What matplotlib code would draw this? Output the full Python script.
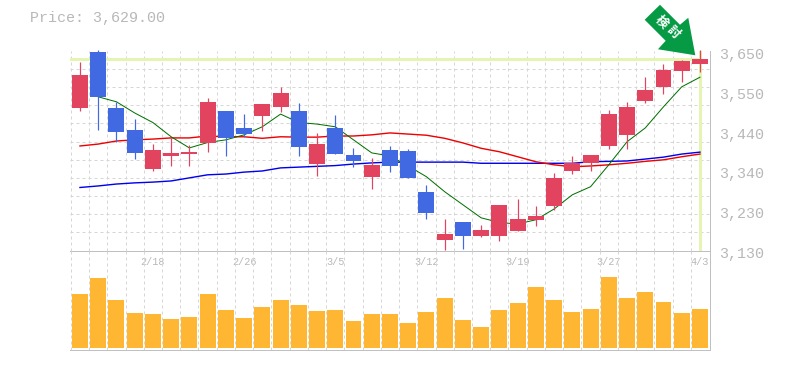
import matplotlib
matplotlib.use('Agg')
import matplotlib.pyplot as plt
import numpy as np
from matplotlib.patches import Polygon
from matplotlib.transforms import ScaledTranslation

# Daily candles, oldest first
opens = [3502, 3647, 3501, 3444, 3342, 3376, 3381, 3410, 3493, 3449, 3480, 3504,
         3493, 3355, 3449, 3379, 3322, 3392, 3389, 3283, 3158, 3205, 3168, 3168,
         3181, 3210, 3246, 3337, 3358, 3402, 3431, 3519, 3556, 3597, 3616]
highs = [3621, 3652, 3517, 3472, 3407, 3423, 3405, 3527, 3493, 3485, 3511, 3556,
         3513, 3436, 3483, 3397, 3371, 3402, 3394, 3301, 3212, 3205, 3197, 3249,
         3264, 3246, 3332, 3376, 3379, 3496, 3517, 3582, 3615, 3626, 3652]
lows = [3493, 3444, 3413, 3369, 3337, 3350, 3350, 3387, 3376, 3426, 3441, 3491,
        3377, 3324, 3381, 3348, 3290, 3335, 3319, 3212, 3132, 3134, 3166, 3155,
        3181, 3194, 3236, 3329, 3337, 3394, 3394, 3514, 3537, 3569, 3595]
closes = [3587, 3530, 3439, 3384, 3392, 3384, 3387, 3517, 3423, 3433, 3511, 3540,
          3400, 3407, 3381, 3363, 3353, 3350, 3319, 3228, 3173, 3168, 3184, 3249,
          3212, 3220, 3319, 3358, 3379, 3485, 3504, 3548, 3600, 3623, 3629]

# Moving averages
ma_short = [np.nan, 3530, 3517, 3488, 3463, 3426, 3397, 3411, 3418, 3431, 3452, 3485,
            3463, 3459, 3452, 3418, 3384, 3376, 3350, 3322, 3283, 3249, 3215, 3203,
            3199, 3210, 3238, 3275, 3296, 3353, 3413, 3449, 3504, 3556, 3581]
ma_mid = [3402, 3407, 3415, 3418, 3420, 3423, 3423, 3428, 3426, 3426, 3422, 3426,
          3425, 3425, 3428, 3428, 3431, 3436, 3433, 3430, 3422, 3410, 3396, 3387,
          3374, 3361, 3353, 3348, 3350, 3353, 3357, 3362, 3366, 3374, 3381]
ma_long = [3294, 3298, 3303, 3306, 3308, 3311, 3319, 3327, 3329, 3334, 3337, 3345,
           3347, 3349, 3351, 3355, 3358, 3360, 3360, 3360, 3360, 3360, 3357, 3357,
           3357, 3357, 3357, 3357, 3361, 3362, 3363, 3368, 3373, 3381, 3386]

volumes = [54, 70, 48, 35, 34, 29, 31, 54, 38, 30, 41, 48, 43, 37, 38, 27, 34, 34,
           25, 36, 50, 28, 21, 38, 45, 61, 48, 36, 39, 71, 50, 56, 46, 35, 39]

date_labels = ['2/18', '2/26', '3/5', '3/12', '3/19', '3/27', '4/3']
date_index = [4, 9, 14, 19, 24, 29, 34]
price_ticks = [3650, 3546, 3442, 3338, 3234, 3130]
price_labels = ['3,650', '3,550', '3,440', '3,340', '3,230', '3,130']
last_price = 3629

UP = '#E2435F'
DOWN = '#4169E1'
HILITE = '#E3F5B0'
GRID = '#D6D6D6'
TEXT = '#B8B8B8'
EDGE = '#C0C0C0'
W, H = 785, 370
px = 72 / 100  # one pixel in points

plt.rcParams['font.family'] = ['Liberation Mono', 'DejaVu Sans Mono']

fig = plt.figure(figsize=(W / 100, H / 100), dpi=100)


def makeAxes(left, top, right, bottom):
    return fig.add_axes([left / W, 1 - bottom / H, (right - left) / W, (bottom - top) / H])


ax = makeAxes(70.3, 50.7, 710, 250.5)
axv = makeAxes(70.3, 250.5, 710, 350)
axv.patch.set_visible(False)

x = np.arange(len(opens))
xlim = (-0.53, 34.55)

# price panel
ax.set_xlim(xlim)
ax.set_ylim(3130, 3650)
ax.set_xticks(x - 0.5, minor=True)
ax.set_yticks(np.linspace(3130, 3650, 12), minor=True)
ax.grid(True, which='minor', color=GRID, lw=px, ls=(0, (3, 3)))
ax.set_axisbelow(True)
ax.tick_params(which='both', length=0)
ax.set_xticks(date_index)
ax.set_xticklabels(date_labels, fontsize=7.3, color=TEXT)
ax.tick_params(axis='x', which='major', pad=4.5)
ax.yaxis.tick_right()
ax.set_yticks(price_ticks)
ax.set_yticklabels(price_labels, fontsize=10.8, color=TEXT)
ax.tick_params(axis='y', which='major', pad=6.5)
down_shift = ScaledTranslation(0, -2.4 / 100, fig.dpi_scale_trans)
for label in ax.get_yticklabels():
    label.set_transform(label.get_transform() + down_shift)

ax.axhline(last_price, xmax=(x[-1] - xlim[0]) / (xlim[1] - xlim[0]), color=HILITE, lw=3 * px, zorder=1.5)
ax.axvline(x[-1], color=HILITE, lw=3 * px, zorder=1.5)

ax.plot(x, ma_long, color='#0000EE', lw=1.4 * px, zorder=2)
ax.plot(x, ma_mid, color='#EE0000', lw=1.4 * px, zorder=2)
ax.plot(x, ma_short, color='#006F00', lw=1 * px, zorder=2)

for i in x:
    color = UP if closes[i] >= opens[i] else DOWN
    ax.vlines(i, lows[i], highs[i], color=color, lw=1.2 * px, zorder=3, clip_on=False)
    ax.bar(i, abs(closes[i] - opens[i]), bottom=min(opens[i], closes[i]), width=0.877, color=color, zorder=3)

# volume panel
axv.set_xlim(xlim)
axv.set_ylim(-2, 97.5)
axv.set_xticks(x - 0.5, minor=True)
axv.set_xticks([])
axv.set_yticks([])
axv.grid(True, which='minor', axis='x', color=GRID, lw=px, ls=(0, (3, 3)))
axv.set_axisbelow(True)
axv.tick_params(which='both', length=0)
axv.bar(x, volumes, width=0.877, color='#FFB733', zorder=3)

for a in (ax, axv):
    a.spines['left'].set_visible(False)
    a.spines['top'].set_visible(False)
    a.spines['right'].set_color(EDGE)
    a.spines['bottom'].set_color(EDGE)
    a.spines['right'].set_linewidth(px)
    a.spines['bottom'].set_linewidth(px)

fig.text(30 / W, 1 - 18 / H, 'Price: 3,629.00', fontsize=10.8, color=TEXT, va='center', ha='left')

# arrow pointing at the last candle, pixel offsets from its close
arrow_shape = np.array([(-40, 54), (-55.3, 39), (-34.3, 18), (-42, 9.5), (-4.7, 3.5), (-11.7, 41), (-20, 34)])
anchor = ax.transData.transform((x[-1], last_price))
arrow = Polygon(arrow_shape + anchor, closed=True, facecolor='#069A45', edgecolor='none',
                transform=None, zorder=10, clip_on=False)
fig.add_artist(arrow)
for text, tx, ty in [('検', 661.7, 21.7), ('討', 673, 32)]:
    fig.text(tx / W, 1 - ty / H, text, fontsize=9, color='white', rotation=-45, ha='center', va='center',
             rotation_mode='anchor', family=['Noto Sans CJK JP', 'DejaVu Sans'], fontweight='bold', zorder=11)

fig.savefig('out.png', dpi=100)
